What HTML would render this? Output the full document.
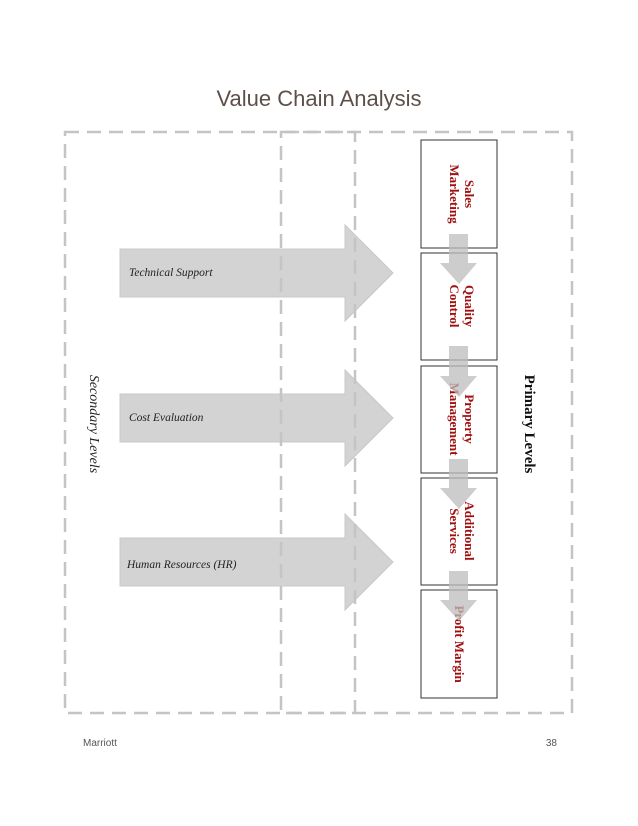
<!DOCTYPE html>
<html><head><meta charset="utf-8"><style>
html,body{margin:0;padding:0;background:#fff;}
svg{display:block;}
</style></head><body>
<svg width="638" height="826" viewBox="0 0 638 826" xmlns="http://www.w3.org/2000/svg">
<text x="319" y="106" text-anchor="middle" font-family="Liberation Sans, sans-serif" font-size="22" fill="#5e5048">Value Chain Analysis</text>
<g fill="#d3d3d3" stroke="#c8c8c8" stroke-width="1">
<polygon points="120,249 345,249 345,225 393,273 345,321 345,297 120,297"/>
<polygon points="120,394 345,394 345,370 393,418 345,466 345,442 120,442"/>
<polygon points="120,538 345,538 345,514 393,562 345,610 345,586 120,586"/>
</g>
<g font-family="Liberation Serif, serif" font-style="italic" font-size="11.5" fill="#222">
<text x="129" y="276">Technical Support</text>
<text x="129" y="421">Cost Evaluation</text>
<text x="127" y="568">Human Resources (HR)</text>
</g>
<g fill="none" stroke="#c4c4c4" stroke-width="2.5" stroke-dasharray="14,8">
<rect x="65" y="132" width="290" height="581"/>
<rect x="281" y="132" width="291" height="581"/>
</g>
<g fill="#fff" stroke="#333" stroke-width="1">
<rect x="421" y="140" width="76" height="108"/>
<rect x="421" y="253" width="76" height="107"/>
<rect x="421" y="366" width="76" height="107"/>
<rect x="421" y="478" width="76" height="107"/>
<rect x="421" y="590" width="76" height="108"/>
</g>
<g font-family="Liberation Serif, serif" font-weight="bold" font-size="13" fill="#a01010" text-anchor="middle">
<text transform="translate(459,194) rotate(90)"><tspan x="0" y="-6">Sales</tspan><tspan x="0" y="9">Marketing</tspan></text>
<text transform="translate(459,306) rotate(90)"><tspan x="0" y="-6">Quality</tspan><tspan x="0" y="9">Control</tspan></text>
<text transform="translate(459,419) rotate(90)"><tspan x="0" y="-6">Property</tspan><tspan x="0" y="9">Management</tspan></text>
<text transform="translate(459,531) rotate(90)"><tspan x="0" y="-6">Additional</tspan><tspan x="0" y="9">Services</tspan></text>
<text transform="translate(459,644) rotate(90)"><tspan x="0" y="4">Profit Margin</tspan></text>
</g>
<g fill="#bdbdbd" opacity="0.75">
<polygon points="449,234 468,234 468,263 477,263 459,284 440,263 449,263"/>
<polygon points="449,346 468,346 468,376 477,376 459,397 440,376 449,376"/>
<polygon points="449,459 468,459 468,488 477,488 459,509 440,488 449,488"/>
<polygon points="449,571 468,571 468,600 477,600 459,621 440,600 449,600"/>
</g>
<text transform="translate(530,424) rotate(90)" text-anchor="middle" font-family="Liberation Serif, serif" font-weight="bold" font-size="15" fill="#111" dy="5">Primary Levels</text>
<text transform="translate(95,424) rotate(90)" text-anchor="middle" font-family="Liberation Serif, serif" font-style="italic" font-size="14" fill="#222" dy="5">Secondary Levels</text>
<g font-family="Liberation Sans, sans-serif" font-size="10" fill="#555">
<text x="83" y="746">Marriott</text>
<text x="557" y="746" text-anchor="end">38</text>
</g>
</svg>
</body></html>
